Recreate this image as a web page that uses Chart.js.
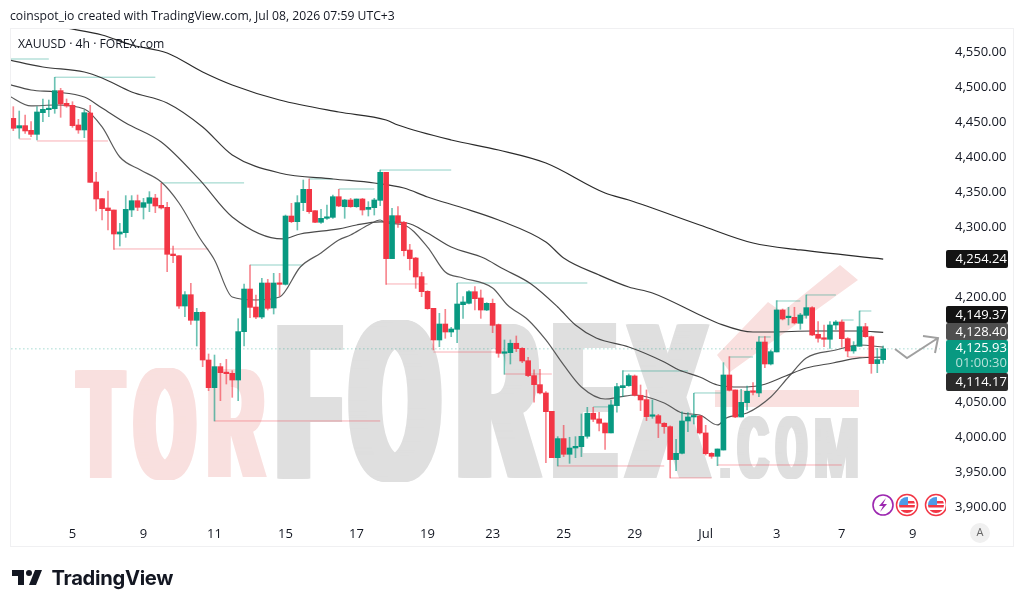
<!DOCTYPE html>
<html>
<head>
<meta charset="utf-8">
<title>XAUUSD 4h</title>
<script src="https://cdn.jsdelivr.net/npm/chart.js@4"></script>
<style>
  html, body { margin: 0; padding: 0; background: #fff; }
  #wrap { position: relative; width: 1024px; height: 609px; overflow: hidden; font-family: "Open Sans", sans-serif; color: #131722; }
  #chart { position: absolute; left: 0; top: 0; }
  .line { position: absolute; white-space: nowrap; font-size: 12.2px; line-height: 16px; }
  #brand { left: 51.5px; top: 563px; font: 700 20.2px/30px Inter, sans-serif; letter-spacing: -0.3px; }
  #logo { position: absolute; left: 10px; top: 564px; }
</style>
</head>
<body>
<div id="wrap">
  <canvas id="chart" width="1024" height="609"></canvas>
  <div class="line" style="left:10px;top:8px">coinspot_io created with TradingView.com, Jul 08, 2026 07:59 UTC+3</div>
  <div class="line" style="left:18px;top:36px">XAUUSD · 4h · FOREX.com</div>
  <svg id="logo" width="36" height="28" viewBox="0 0 36 28"><path fill="#131722" d="M14 6H2v6h6v9h6V6zm12 15h-7l6-15h7l-6 15zm-7-9a3 3 0 1 0 0-6 3 3 0 0 0 0 6z"/></svg>
  <div class="line" id="brand">TradingView</div>
</div>
<script>
// 4h candles, oldest first
const opens = [
  4455.2,4441.4,4444.8,4438.1,4432.4,4463.3,4467.6,4469.0,4494.8,4476.7,4473.8,4445.7,
  4438.6,4462.9,4364.3,4340.5,4327.2,4324.3,4290.0,4291.9,4324.3,4337.6,4328.1,4333.8,
  4341.4,4331.0,4328.1,4261.4,4259.0,4187.1,4203.3,4166.7,4178.1,4110.0,4070.5,4100.5,
  4092.4,4091.0,4081.4,4150.5,4211.4,4185.7,4171.4,4220.0,4184.3,4220.0,4218.1,4315.7,
  4307.6,4334.8,4353.8,4323.3,4306.7,4312.4,4313.8,4343.3,4329.0,4338.6,4329.0,4340.0,
  4325.2,4327.6,4338.1,4378.1,4254.8,4316.2,4306.7,4267.1,4255.7,4229.0,4208.1,4183.8,
  4138.6,4161.4,4150.0,4153.8,4189.0,4191.0,4207.6,4198.6,4181.4,4191.0,4160.5,4119.6,
  4120.5,4133.9,4126.7,4109.0,4087.7,4074.8,4062.9,4036.7,3970.5,3997.7,3975.3,3984.3,
  3986.2,4001.0,4033.9,4025.8,4020.0,4005.8,4044.8,4070.5,4073.4,4087.2,4059.6,4053.4,
  4029.6,4030.5,4019.6,4014.8,3967.7,3976.7,4022.9,4028.6,4030.0,4005.8,3976.7,3972.4,
  3981.4,4088.6,4067.2,4028.6,4049.0,4065.3,4062.9,4135.7,4104.3,4121.5,4181.5,4170.5,
  4171.0,4162.4,4173.8,4184.8,4146.7,4141.5,4139.6,4160.0,4164.3,4140.5,4122.9,4129.6,
  4157.6,4143.3,4104.8,4110.5
];
const highs = [
  4471.9,4465.7,4460.0,4450.5,4471.9,4482.9,4481.4,4513.8,4498.1,4482.9,4479.0,4453.8,
  4467.1,4473.8,4378.1,4340.5,4351.4,4324.3,4305.2,4344.8,4344.8,4345.7,4341.0,4350.5,
  4346.7,4362.4,4335.2,4272.9,4259.0,4207.6,4219.5,4183.8,4179.0,4118.6,4117.1,4105.2,
  4110.9,4094.8,4169.0,4218.6,4245.7,4202.9,4226.7,4225.2,4233.8,4233.8,4317.1,4333.8,
  4344.8,4367.1,4368.6,4323.3,4325.2,4331.4,4345.7,4353.8,4339.5,4341.0,4340.0,4341.0,
  4336.2,4341.0,4381.4,4378.1,4326.7,4329.0,4308.1,4275.2,4256.7,4235.2,4209.0,4183.8,
  4176.7,4182.4,4156.7,4219.5,4200.5,4209.0,4214.8,4210.0,4191.9,4197.1,4161.4,4138.6,
  4138.6,4144.3,4127.7,4113.9,4095.8,4096.7,4064.8,4036.7,4000.5,4016.7,3999.6,4000.5,
  4032.9,4042.4,4042.4,4035.3,4020.0,4052.9,4076.7,4094.8,4090.0,4088.6,4074.3,4067.2,
  4052.9,4032.4,4020.5,4015.8,3996.7,4035.8,4034.8,4062.4,4031.0,4016.7,3977.7,3982.9,
  4106.2,4114.8,4067.2,4068.1,4072.9,4077.6,4143.4,4143.4,4124.3,4194.8,4182.9,4185.3,
  4185.3,4176.7,4202.9,4186.2,4164.8,4160.0,4164.8,4166.2,4167.2,4141.9,4136.2,4180.0,
  4162.4,4144.3,4126.7,4130.0
];
const lows = [
  4437.6,4426.7,4433.8,4429.1,4424.3,4450.5,4457.6,4462.4,4456.7,4471.0,4442.4,4433.8,
  4427.6,4363.8,4322.9,4310.0,4295.7,4268.1,4272.9,4285.2,4314.8,4323.3,4311.4,4321.9,
  4320.5,4325.7,4236.2,4249.0,4183.8,4171.9,4160.9,4130.0,4100.5,4066.2,4022.9,4051.9,
  4075.7,4056.7,4051.9,4130.0,4170.5,4169.0,4169.0,4181.4,4175.7,4201.4,4217.1,4306.2,
  4295.7,4323.3,4319.5,4306.2,4305.2,4311.0,4312.4,4329.0,4312.4,4328.1,4328.1,4317.1,
  4315.7,4317.1,4330.5,4218.1,4254.8,4299.5,4258.6,4238.6,4212.4,4200.5,4182.4,4124.3,
  4129.0,4141.0,4143.3,4134.8,4169.5,4190.0,4181.4,4169.5,4180.5,4149.0,4113.9,4089.6,
  4104.3,4122.0,4106.2,4086.2,4049.6,4061.5,3963.4,3970.5,3958.6,3972.0,3962.4,3970.5,
  3972.0,3998.2,4022.0,4008.6,3982.4,4005.8,4035.3,4057.7,4072.4,4058.6,4037.7,4023.4,
  4026.7,3999.1,4005.3,3941.5,3952.0,3975.8,4007.7,4018.6,4004.3,3974.3,3969.6,3959.1,
  3981.4,4065.7,4027.6,4028.6,4038.6,4060.0,4057.6,4099.1,4102.9,4121.5,4167.2,4160.0,
  4161.5,4153.8,4169.6,4144.8,4135.3,4129.1,4126.7,4153.8,4128.1,4114.8,4119.6,4129.6,
  4142.4,4091.0,4091.9,4105.3
];
const closes = [
  4441.0,4444.8,4437.2,4432.4,4464.3,4468.1,4469.5,4494.8,4475.7,4472.9,4444.8,4438.6,
  4463.3,4363.8,4340.0,4326.2,4323.3,4290.0,4292.9,4325.2,4337.6,4328.1,4334.8,4341.9,
  4330.0,4327.2,4261.0,4259.0,4187.1,4203.3,4166.7,4178.1,4110.0,4070.5,4100.5,4091.9,
  4090.5,4081.4,4150.5,4211.4,4185.2,4171.4,4220.0,4183.8,4220.0,4218.1,4315.7,4307.6,
  4334.8,4353.8,4321.9,4306.7,4312.4,4313.8,4343.3,4330.0,4338.6,4329.0,4340.0,4324.3,
  4328.1,4338.6,4378.1,4254.8,4316.2,4305.7,4266.2,4254.8,4228.6,4207.6,4183.3,4138.6,
  4161.4,4150.0,4154.3,4190.0,4192.9,4207.6,4197.6,4181.4,4191.0,4159.5,4119.6,4121.5,
  4133.9,4126.2,4108.6,4087.7,4074.8,4062.9,4036.2,3970.5,3997.7,3975.3,3984.3,3986.7,
  4001.0,4033.9,4025.3,4019.6,4005.8,4045.8,4072.0,4073.4,4087.7,4059.6,4052.9,4029.1,
  4031.0,4019.6,4014.8,3967.7,3976.7,4022.9,4028.6,4030.0,4005.8,3976.2,3972.4,3982.9,
  4088.6,4066.7,4028.6,4049.5,4065.3,4063.8,4135.7,4104.3,4121.9,4181.5,4168.6,4171.9,
  4162.9,4174.3,4184.8,4145.7,4141.0,4139.6,4160.0,4164.3,4140.5,4122.9,4130.0,4157.6,
  4143.3,4104.8,4110.5,4125.93
];

// moving averages, read at a handful of candle positions
const ma200At = [5,9,15,20,26,32,37,45,55,63,65,74,82,90,100,104,116,125,133,147];
const ma200 = [4591.4,4584.3,4574.3,4560.0,4548.6,4521.4,4502.9,4481.4,4464.3,4452.9,4445.7,4424.3,4410.0,4391.4,4348.6,4338.6,4302.9,4277.1,4267.2,4254.24];
const ma100At = [-1,5,12,15,20,26,32,37,45,54,61,66,70,76,82,90,93,99,104,108,116,119,125,128,135,143,147];
const ma100 = [4539.3,4528.6,4521.4,4512.9,4492.9,4477.2,4442.9,4402.9,4377.2,4368.6,4362.9,4355.7,4342.9,4327.2,4310.0,4278.6,4255.7,4231.4,4214.3,4205.7,4174.3,4162.9,4150.0,4150.0,4151.4,4151.4,4149.37];
const ma50At = [-1,3,7,12,15,19,25,31.5,37,45.5,48.5,55,58,62,66.5,70,74,79.5,82.5,87.5,92,95,98.5,104,110,112.5,116,119,123,126.5,130.5,134,138.5,143,147];
const ma50 = [4504.3,4495.7,4492.9,4485.7,4470.0,4448.6,4421.4,4367.2,4314.3,4282.9,4290.0,4297.2,4302.9,4307.2,4305.7,4291.4,4271.4,4255.7,4241.4,4218.6,4185.7,4160.0,4141.4,4128.6,4107.2,4095.7,4085.7,4074.3,4071.4,4074.3,4087.2,4098.6,4105.7,4112.9,4114.17];
const ma20At = [-1,3,7,12,15,18,21.5,25,28,31.5,34,37,41,45,48.5,52,55,57,60,62,63,66,70,73,76,81,83.5,87,90,93,96,100,102.5,105,110,113,116,119,120.5,124,128,131,134,139,143,147];
const ma20 = [4488.6,4472.9,4474.3,4468.6,4442.9,4400.0,4381.4,4364.3,4334.3,4284.3,4252.9,4200.0,4195.7,4200.0,4242.9,4262.9,4281.4,4288.6,4302.9,4310.0,4305.7,4302.9,4271.4,4235.7,4227.2,4212.9,4188.6,4167.2,4138.6,4102.9,4071.4,4054.3,4057.2,4060.0,4048.6,4034.3,4031.4,4017.2,4027.2,4034.3,4057.2,4085.7,4112.9,4124.3,4131.4,4128.40];

// swing levels: first candle, last candle, price
const highFrom = [-1,7,25,40,50,55,62,75,98,103,115,121,126,129,134,140,143];
const highTo = [6,24,39,49,54,61,74,97,101,114,120,125,128,133,139,142,145];
const highLevel = [4540.0,4514.0,4363.0,4245.7,4368.6,4354.3,4381.4,4220.0,4043.0,4094.3,4062.9,4114.3,4142.9,4194.3,4202.9,4167.1,4180.0];
const lowFrom = [1,4,17,34,63,71,83,92,111,119,141];
const lowTo = [3,16,33,62,70,82,91,110,118,140,145];
const lowLevel = [4425.7,4422.9,4268.6,4022.9,4218.6,4121.4,4090.0,3958.6,3941.5,3960.0,4114.3];

// axes
const dayAt = [10,22,34,46,58,70,81,93,105,117,129,140,152];
const dayLabels = ["5","9","11","15","17","19","23","25","29","Jul","3","7","9"];
const priceTicks = [4550,4500,4450,4400,4350,4300,4200,4050,4000,3950,3900];

// price scale tags
const tagMa200 = 4254.24, tagMa100 = 4149.37, tagMa20 = 4128.40, tagMa50 = 4114.17, lastPrice = 4125.93;
const countdown = "01:00:30";

const UP = "#089981", DOWN = "#f23645";
const isUp = closes.map((c, i) => c >= opens[i]);
const bodyColors = isUp.map((u) => (u ? UP : DOWN));
const wickColors = isUp.map((u) => (u ? "rgba(8,153,129,0.6)" : "rgba(242,54,69,0.6)"));

const pairs = (xs, ys) => xs.map((x, i) => ({ x, y: ys[i] }));
const segments = (from, to, level) =>
  from.flatMap((f, i) => [{ x: f, y: level[i] }, { x: to[i], y: level[i] }, { x: to[i], y: null }]);
const money = (v) => v.toLocaleString("en-US", { minimumFractionDigits: 2, maximumFractionDigits: 2 });

function maLine(label, xs, ys, color) {
  return {
    type: "line", label, data: pairs(xs, ys), borderColor: color, borderWidth: 1.2,
    pointRadius: 0, cubicInterpolationMode: "monotone", order: 3,
  };
}

function levelLine(label, from, to, level, color) {
  return {
    type: "line", label, data: segments(from, to, level), borderColor: color, borderWidth: 1,
    pointRadius: 0, spanGaps: false, order: 4,
  };
}

// ── backdrop lettering: one glyph stretched into its box, stems widened by repeating it ──
function glyph(ctx, text, x0, x1, top, base, stem, color) {
  ctx.save();
  ctx.font = 'bold 200px "Liberation Sans Narrow", "Liberation Sans", sans-serif';
  ctx.textBaseline = "alphabetic";
  ctx.textAlign = "left";
  ctx.fillStyle = color;
  const m = ctx.measureText(text);
  const w = m.actualBoundingBoxRight + m.actualBoundingBoxLeft;
  const sx = (x1 - x0 - stem) / w;
  const sy = (base - top) / (m.actualBoundingBoxAscent + m.actualBoundingBoxDescent);
  for (let dx = 0; dx <= stem; dx += 1) {
    ctx.save();
    ctx.translate(x0 + dx, base - m.actualBoundingBoxDescent * sy);
    ctx.scale(sx, sy);
    ctx.fillText(text, m.actualBoundingBoxLeft, 0);
    ctx.restore();
  }
  ctx.restore();
}

const watermark = {
  id: "watermark",
  beforeDatasetsDraw(chart) {
    const ctx = chart.ctx;
    const pink = "#f9e0df", grey = "#dfdfdf";
    glyph(ctx, "T", 75, 127, 370, 478, 12, pink);
    glyph(ctx, "O", 133, 197, 368, 480, 12, pink);
    glyph(ctx, "R", 208, 267, 370, 478, 12, pink);
    glyph(ctx, "F", 277, 343, 323, 478, 20, grey);
    glyph(ctx, "O", 348, 442, 320, 482, 18, grey);
    glyph(ctx, "R", 458, 543, 323, 478, 18, grey);
    glyph(ctx, "E", 553, 618, 323, 478, 18, grey);
    glyph(ctx, "X", 623, 712, 323, 478, 16, grey);
    glyph(ctx, ".", 720, 730, 468, 478, 2, grey);
    glyph(ctx, "C", 737, 770, 416, 479, 6, grey);
    glyph(ctx, "O", 775, 808, 416, 479, 6, grey);
    glyph(ctx, "M", 815, 858, 417, 478, 5, grey);
    ctx.save();
    ctx.fillStyle = pink;
    ctx.beginPath();
    [[717,355],[768,302],[782,312],[840,265],[858,280],[730,372]].forEach(([x, y], i) =>
      i ? ctx.lineTo(x, y) : ctx.moveTo(x, y));
    ctx.closePath();
    ctx.fill();
    ctx.fillRect(715, 390, 144, 17);
    ctx.restore();
  },
};

function usFlag(ctx, cx, cy) {
  ctx.save();
  ctx.beginPath();
  ctx.rect(cx - 12, cy - 12, 946 - (cx - 12), 24);
  ctx.clip();
  ctx.fillStyle = "#fff";
  ctx.beginPath();
  ctx.arc(cx, cy, 10.5, 0, Math.PI * 2);
  ctx.fill();
  ctx.strokeStyle = "#f23645";
  ctx.lineWidth = 1.5;
  ctx.stroke();
  ctx.beginPath();
  ctx.arc(cx, cy, 8, 0, Math.PI * 2);
  ctx.clip();
  ctx.fillStyle = "#f23645";
  ctx.fillRect(cx - 8, cy, 16, 2.5);
  ctx.fillRect(cx - 8, cy + 5, 16, 3);
  ctx.fillRect(cx + 1, cy - 4, 8, 2.5);
  ctx.fillStyle = "#4d9be8";
  ctx.fillRect(cx - 8, cy - 8, 9, 8);
  ctx.restore();
}

const overlay = {
  id: "overlay",
  afterDraw(chart) {
    const ctx = chart.ctx;
    const y = chart.scales.y;
    ctx.save();
    // outer frame
    ctx.strokeStyle = "#f0f0f2";
    ctx.lineWidth = 1;
    ctx.strokeRect(10.5, 28.5, 1003, 518);

    // price tags, stacked around the last price
    const tag = (top, h, bg) => {
      ctx.fillStyle = bg;
      ctx.beginPath();
      ctx.roundRect(946, top, 62, h, 2);
      ctx.fill();
    };
    const write = (s, yy, color) => {
      ctx.fillStyle = color;
      ctx.fillText(s, 955.5, yy);
    };
    ctx.font = '13px "Open Sans", sans-serif';
    ctx.textBaseline = "middle";
    ctx.textAlign = "left";
    const mid = Math.round(y.getPixelForValue(lastPrice));
    const t200 = Math.round(y.getPixelForValue(tagMa200));
    tag(t200 - 9, 18, "#131313");
    write(money(tagMa200), t200, "#fff");
    tag(mid - 43, 17, "#131313");
    write(money(tagMa100), mid - 34, "#fff");
    tag(mid - 26, 17, "#4f4f4f");
    write(money(tagMa20), mid - 17, "#fff");
    tag(mid - 9, 33, UP);
    write(money(lastPrice), mid - 1, "#fff");
    write(countdown, mid + 14, "rgba(255,255,255,0.7)");
    tag(mid + 24, 18, "#2a2a2a");
    write(money(tagMa50), mid + 33, "#fff");

    // projected path arrow
    ctx.strokeStyle = "#a0a0a0";
    ctx.lineWidth = 2;
    ctx.beginPath();
    ctx.moveTo(895, mid);
    ctx.lineTo(907, mid + 9);
    ctx.lineTo(938, mid - 11);
    ctx.moveTo(923, mid - 13);
    ctx.lineTo(938, mid - 11);
    ctx.lineTo(935, mid + 4);
    ctx.stroke();

    // calendar markers
    ctx.strokeStyle = "#9c27b0";
    ctx.lineWidth = 1.6;
    ctx.beginPath();
    ctx.arc(883, 505, 10, 0, Math.PI * 2);
    ctx.stroke();
    ctx.fillStyle = "#9c27b0";
    ctx.beginPath();
    [[886,498],[879,506],[883,506],[880,512],[887,504],[883,504]].forEach(([px, py], i) =>
      i ? ctx.lineTo(px, py) : ctx.moveTo(px, py));
    ctx.closePath();
    ctx.fill();
    usFlag(ctx, 907, 505);
    usFlag(ctx, 936, 505);

    // auto-scale button
    ctx.fillStyle = "#f0f0f0";
    ctx.beginPath();
    ctx.arc(980, 533, 10, 0, Math.PI * 2);
    ctx.fill();
    ctx.fillStyle = "#666";
    ctx.font = '11px "Open Sans", sans-serif';
    ctx.textAlign = "center";
    ctx.fillText("A", 980, 533);
    ctx.restore();
  },
};

new Chart(document.getElementById("chart"), {
  type: "bar",
  data: {
    datasets: [
      {
        type: "bar", label: "body", data: opens.map((o, i) => ({ x: i, y: [o, closes[i]] })),
        backgroundColor: bodyColors, barThickness: 5, minBarLength: 1.5, grouped: false, order: 1,
      },
      {
        type: "bar", label: "wick", data: highs.map((h, i) => ({ x: i, y: [lows[i], h] })),
        backgroundColor: wickColors, barThickness: 1, grouped: false, order: 2,
      },
      maLine("MA 200", ma200At, ma200, "#2a2a2a"),
      maLine("MA 100", ma100At, ma100, "#3a3a3a"),
      maLine("MA 50", ma50At, ma50, "#4a4a4a"),
      maLine("MA 20", ma20At, ma20, "#5a5a5a"),
      levelLine("swing high", highFrom, highTo, highLevel, "rgba(8,153,129,0.45)"),
      levelLine("swing low", lowFrom, lowTo, lowLevel, "rgba(242,54,69,0.4)"),
      {
        type: "line", label: "last", data: [{ x: -1, y: lastPrice }, { x: 158, y: lastPrice }],
        borderColor: "rgba(8,153,129,0.55)", borderWidth: 1, borderDash: [1, 3], pointRadius: 0, order: 5,
      },
    ],
  },
  options: {
    responsive: false,
    animation: false,
    events: [],
    layout: { padding: { left: 10, top: 28, right: 0, bottom: 0 } },
    plugins: { legend: { display: false }, tooltip: { enabled: false } },
    scales: {
      x: {
        type: "linear",
        offset: false,
        min: -0.558,
        max: 156.6,
        border: { display: false },
        grid: { display: false, drawTicks: false },
        afterFit: (s) => { s.height = 87; },
        afterBuildTicks: (s) => { s.ticks = dayAt.map((value) => ({ value })); },
        ticks: {
          autoSkip: false, maxRotation: 0, padding: 4,
          font: { family: "Open Sans", size: 13 }, color: "#131722",
          callback: (v) => dayLabels[dayAt.indexOf(v)],
        },
      },
      y: {
        position: "right",
        min: 3878.57,
        max: 4584.29,
        border: { display: false },
        grid: { display: false, drawTicks: false },
        afterFit: (s) => { s.width = 84; },
        afterBuildTicks: (s) => { s.ticks = priceTicks.map((value) => ({ value })); },
        ticks: {
          autoSkip: false, padding: 15, crossAlign: "near",
          font: { family: "Open Sans", size: 13 }, color: "#131722",
          callback: (v) => money(v),
        },
      },
    },
  },
  plugins: [watermark, overlay],
});
</script>
</body>
</html>
